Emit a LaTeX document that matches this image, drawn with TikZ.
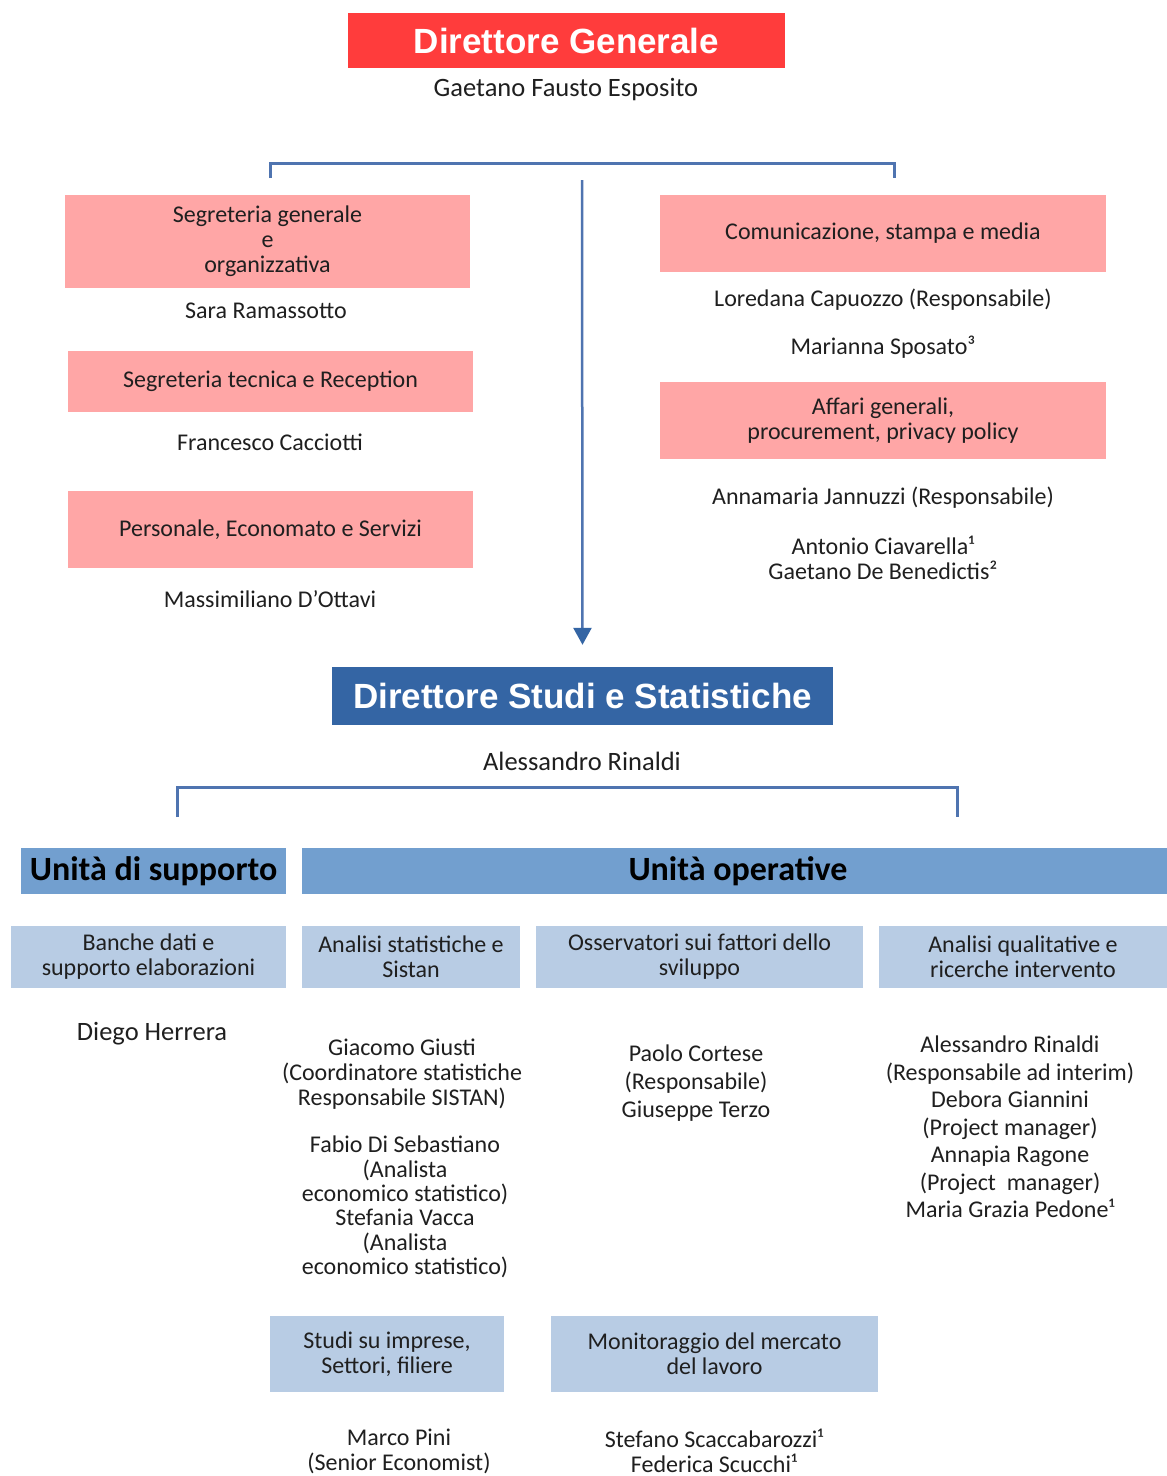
\documentclass[tikz,border=0pt]{standalone}
\usepackage{fontspec}
\setmainfont{Carlito}
\newfontfamily\arialf{Liberation Sans}
\usetikzlibrary{arrows.meta}
\definecolor{dgred}{HTML}{FF3C3C}
\definecolor{pinkbx}{HTML}{FFA6A6}
\definecolor{dssblue}{HTML}{3465A4}
\definecolor{unitblue}{HTML}{729FCF}
\definecolor{lightblue}{HTML}{B8CCE4}
\definecolor{linec}{HTML}{4F74B0}
\definecolor{txtc}{HTML}{1F1F1F}
\begin{document}
\begin{tikzpicture}[x=1pt,y=-1pt,
  basetxt/.style={inner sep=0pt, align=center, text=txtc, font=\fontsize{24}{25}\selectfont},
  namet/.style={basetxt},
  bignamet/.style={basetxt, font=\fontsize{26.5}{28}\selectfont},
  pinkbox/.style={basetxt, fill=pinkbx},
  lbbox/.style={basetxt, fill=lightblue},
  dirbox/.style={inner sep=0pt, text=white, font=\arialf\bfseries\fontsize{35}{40}\selectfont},
  unitbox/.style={inner sep=0pt, fill=unitblue, text=black, font=\bfseries\fontsize{34}{38}\selectfont},
  conn/.style={draw=linec, line width=3pt}]
\useasboundingbox[fill=white] (0,0) rectangle (1167,1476);

% top director
\node[dirbox, fill=dgred, minimum width=437pt, minimum height=55pt] (dg) at (566.5,40.5) {Direttore Generale};
\node[bignamet] (dgn) at (566,90) {Gaetano Fausto Esposito};

% left staff
\node[pinkbox, minimum width=405pt, minimum height=93pt] (sg) at (267.5,241.5) {Segreteria generale\\e\\organizzativa};
\node[namet] (sgn) at (266,311) {Sara Ramassotto};
\node[pinkbox, minimum width=405pt, minimum height=61pt] (st) at (270.5,381.5) {Segreteria tecnica e Reception};
\node[namet] (stn) at (270,442) {Francesco Cacciotti};
\node[pinkbox, minimum width=405pt, minimum height=77pt] (pe) at (270.5,529.5) {Personale, Economato e Servizi};
\node[namet] (pen) at (270,599) {Massimiliano D’Ottavi};

% right staff
\node[pinkbox, minimum width=446pt, minimum height=77pt] (com) at (883,233.5) {Comunicazione, stampa e media};
\node[namet] (comn1) at (883,300) {Loredana Capuozzo (Responsabile)};
\node[namet] (comn2) at (883,347) {Marianna Sposato³};
\node[pinkbox, minimum width=446pt, minimum height=77pt] (aff) at (883,420.5) {Affari generali,\\procurement, privacy policy};
\node[namet] (affn1) at (883,498) {Annamaria Jannuzzi (Responsabile)};
\node[namet] (affn2) at (883,557.5) {Antonio Ciavarella¹\\Gaetano De Benedictis²};

% studies director
\node[dirbox, fill=dssblue, minimum width=501pt, minimum height=58pt] (dss) at (582.5,696) {Direttore Studi e Statistiche};
\node[bignamet] (dssn) at (582,761) {Alessandro Rinaldi};

% units
\node[unitbox, minimum width=265pt, minimum height=46pt] (us) at (153.5,871) {Unità di supporto};
\node[unitbox, minimum width=865pt, minimum height=46pt] (uo) at (734.5,871) {\hspace*{7pt}Unità operative};

\node[lbbox, minimum width=275pt, minimum height=62pt] (bd) at (148.5,957) {Banche dati e\\supporto elaborazioni};
\node[lbbox, minimum width=218pt, minimum height=62pt] (as) at (411,957) {Analisi statistiche e\\Sistan};
\node[lbbox, minimum width=327pt, minimum height=62pt] (os) at (699.5,957) {Osservatori sui fattori dello\\sviluppo};
\node[lbbox, minimum width=288pt, minimum height=62pt] (aq) at (1023,957) {Analisi qualitative e\\ricerche intervento};

\node[bignamet] (dh) at (152,1034) {Diego Herrera};
\node[namet] (gg) at (402,1074) {Giacomo Giusti\\(Coordinatore statistiche\\Responsabile SISTAN)};
\node[namet, font=\fontsize{24}{24.4}\selectfont] (fd) at (405,1207) {Fabio Di Sebastiano\\(Analista\\economico statistico)\\Stefania Vacca\\(Analista\\economico statistico)};
\node[namet, font=\fontsize{24}{28}\selectfont] (pc) at (696,1083) {Paolo Cortese\\(Responsabile)\\Giuseppe Terzo};
\node[namet, font=\fontsize{24}{27.5}\selectfont] (ar) at (1010,1127) {Alessandro Rinaldi\\(Responsabile ad interim)\\Debora Giannini\\(Project manager)\\Annapia Ragone\\(Project\ \ manager)\\Maria Grazia Pedone¹};

\node[lbbox, minimum width=234pt, minimum height=76pt] (si) at (387,1354) {Studi su imprese,\\Settori, filiere};
\node[lbbox, minimum width=327pt, minimum height=76pt] (mm) at (714.5,1354) {Monitoraggio del mercato\\del lavoro};
\node[namet] (mp) at (399,1451) {Marco Pini\\(Senior Economist)};
\node[namet] (ss) at (714,1451) {Stefano Scaccabarozzi¹\\Federica Scucchi¹};

% connectors
\coordinate (b1l) at (270,178);
\coordinate (b1r) at (894,178);
\draw[conn] (b1l) -- ++(0,-15) -| (b1r);
\coordinate (arrs) at (582,180);
\draw[conn, line width=2.5pt, -{Triangle[length=17pt,width=18pt,color=dssblue]}] (arrs) -- ([yshift=22pt]dss.north);
\coordinate (b2l) at (177,817);
\coordinate (b2r) at (957,817);
\draw[conn] (b2l) -- ++(0,-30) -| (b2r);
\end{tikzpicture}
\end{document}
